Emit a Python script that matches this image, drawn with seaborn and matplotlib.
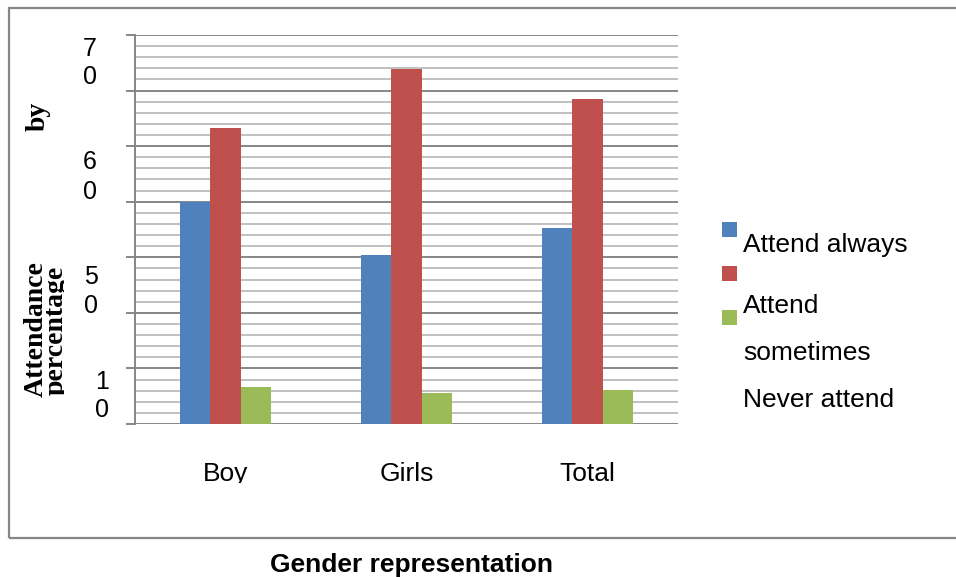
import matplotlib
matplotlib.use("Agg")
import matplotlib.pyplot as plt
import numpy as np
import pandas as pd
import seaborn as sns
from matplotlib.patches import Rectangle
from matplotlib.ticker import MultipleLocator
from matplotlib.transforms import Bbox

# Attendance by gender (percent)
groups = ["Boy", "Girls", "Total"]
series = ["Attend always", "Attend sometimes", "Never attend"]
attend_always = [40.0, 30.4, 35.3]
attend_sometimes = [53.3, 63.9, 58.5]
never_attend = [6.6, 5.6, 6.1]
colors = ["#4F81BD", "#C0504D", "#9BBB59"]

# y tick labels are wrapped into two lines, one digit per line
ytick_values = [70, 60, 50, 10]

sns.set_style("white")
plt.rcParams["font.family"] = ["Liberation Sans", "DejaVu Sans"]
plt.rcParams["text.color"] = "black"
plt.rcParams["xtick.labelcolor"] = "black"

W, H = 956, 577
fig = plt.figure(figsize=(W / 100, H / 100), dpi=100)


def fx(px):
    return px / W


def fy(py):
    return 1 - py / H


GRID_MAJOR = "#868686"
GRID_MINOR = "#c0c0c0"

# chart frame
fig.patches.append(Rectangle((fx(9), fy(537.7)), 1.2, fy(7.5) - fy(537.7),
                             transform=fig.transFigure, fill=False,
                             edgecolor=GRID_MAJOR, linewidth=1.6))

ax = fig.add_axes([fx(135), fy(424), fx(678) - fx(135), fy(35) - fy(424)])

df = pd.DataFrame({
    "group": groups * 3,
    "series": [s for s in series for _ in groups],
    "value": attend_always + attend_sometimes + never_attend,
})
sns.barplot(data=df, x="group", y="value", hue="series", palette=colors,
            width=0.5, saturation=1, linewidth=0, errorbar=None,
            legend=False, ax=ax)

ax.set_ylim(0, 70)
ax.yaxis.set_major_locator(MultipleLocator(10))
ax.yaxis.set_minor_locator(MultipleLocator(2))
ax.set_axisbelow(True)
ax.yaxis.grid(True, which="major", color=GRID_MAJOR, linewidth=1.4)
ax.yaxis.grid(True, which="minor", color=GRID_MINOR, linewidth=1.4)
ax.set_yticklabels([])
ax.tick_params(axis="y", which="major", left=True, length=6.5, width=1.4,
               color=GRID_MAJOR, direction="out")
ax.tick_params(axis="y", which="minor", left=False)
ax.tick_params(axis="x", length=0, pad=27.5, labelsize=19, labelcolor="black")
for side in ("top", "right", "bottom"):
    ax.spines[side].set_visible(False)
ax.spines["left"].set_color(GRID_MAJOR)
ax.spines["left"].set_linewidth(1.4)
ax.set_xlabel("")
ax.set_ylabel("")

# category labels are cut off just below the baseline
label_clip = Bbox([[0, H - 483], [W, H]])
for lbl in ax.get_xticklabels():
    lbl.set_clip_box(label_clip)
    lbl.set_clip_on(True)

# wrapped y tick labels
digit_pos = {70: (90, 49, 77), 60: (90, 162, 192), 50: (91, 277, 306), 10: (102, 382, 410)}
for v in ytick_values:
    x, y1, y2 = digit_pos[v]
    s = str(v)
    fig.text(fx(x), fy(y1), s[0], ha="center", va="center", fontsize=18)
    fig.text(fx(x), fy(y2), s[1], ha="center", va="center", fontsize=18)

# y axis title (serif, bold, wrapped and partially cut)
serif = ["Liberation Serif", "DejaVu Serif"]
fig.text(fx(45), fy(116), "by", rotation=90, rotation_mode="anchor",
         ha="center", va="baseline", fontsize=20, fontweight="bold", family=serif)
fig.text(fx(43), fy(329), "Attendance", rotation=90, rotation_mode="anchor",
         ha="center", va="baseline", fontsize=20, fontweight="bold", family=serif)
t = fig.text(fx(63), fy(330), "percentage", rotation=90, rotation_mode="anchor",
             ha="center", va="baseline", fontsize=20, fontweight="bold", family=serif)
t.set_clip_box(Bbox([[0, 0], [63.5, H]]))
t.set_clip_on(True)

# x axis title
fig.text(fx(411), fy(572), "Gender representation", ha="center", va="baseline",
         fontsize=19, fontweight="bold")

# legend
square_tops = [222, 266, 310]
for c, top in zip(colors, square_tops):
    fig.patches.append(Rectangle((fx(722), fy(top + 15)), fx(15), 15 / H,
                                 transform=fig.transFigure, facecolor=c,
                                 edgecolor="none"))
legend_lines = [("Attend always", 252), ("Attend", 313), ("sometimes", 360),
                ("Never attend", 407)]
for txt, base in legend_lines:
    fig.text(fx(743), fy(base), txt, ha="left", va="baseline", fontsize=19)

fig.savefig("out.png", dpi=100)
